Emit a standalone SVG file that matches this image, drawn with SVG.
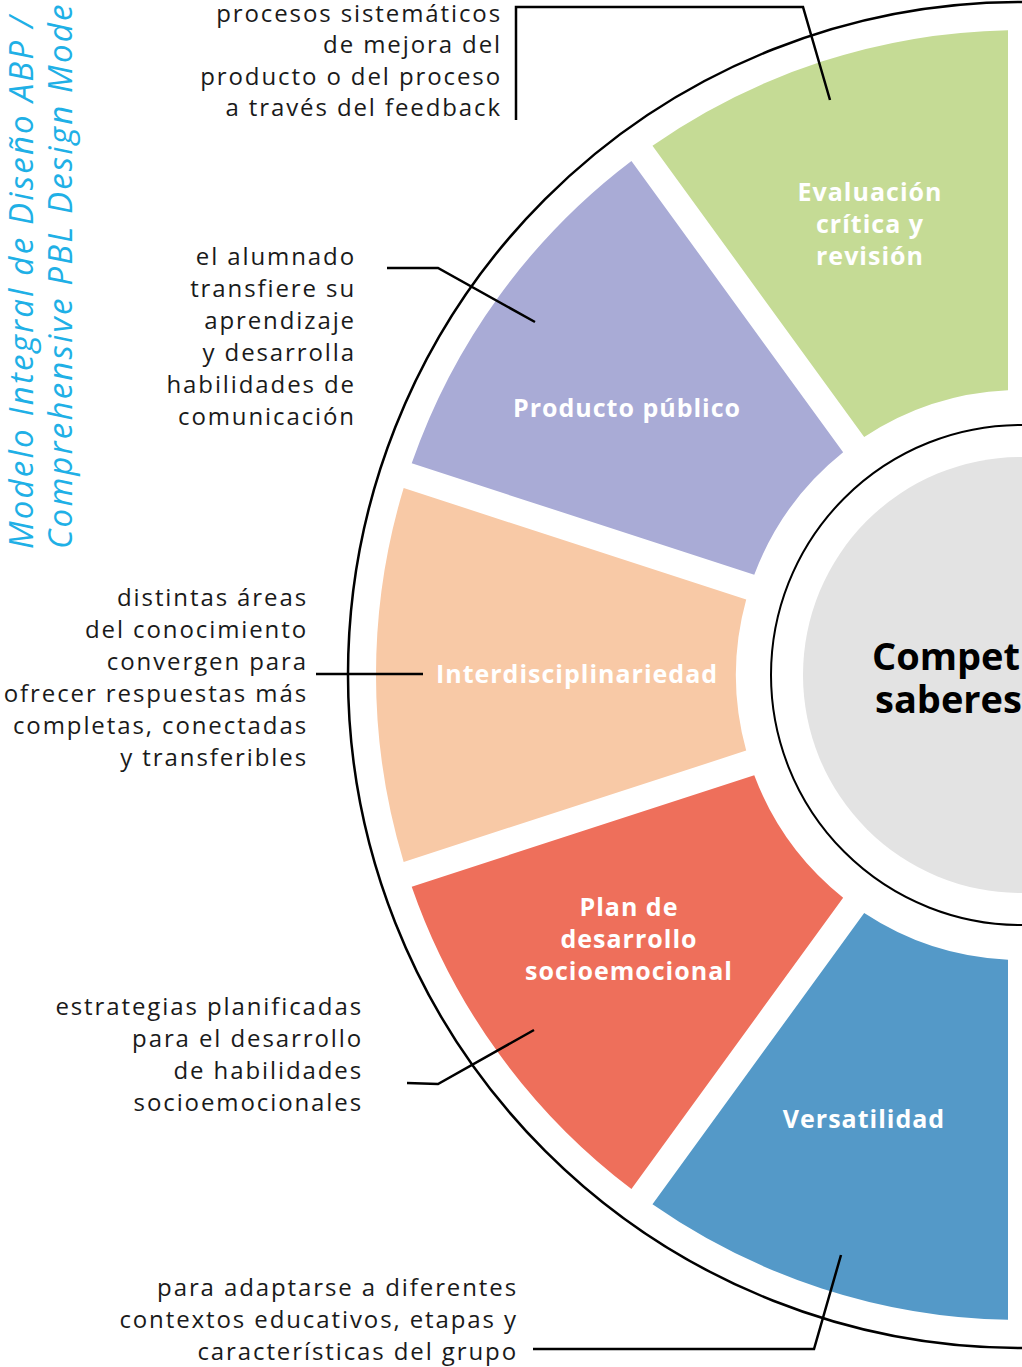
<svg xmlns="http://www.w3.org/2000/svg" width="1022" height="1367" viewBox="0 0 1022 1367">
<style>
.lbl{font-family:"Open Sans","Liberation Sans",sans-serif;font-size:24px;fill:#1a1a1a;text-anchor:end;letter-spacing:1.9px}
.seg{font-family:"Open Sans","Liberation Sans",sans-serif;font-size:25px;font-weight:bold;fill:#ffffff;text-anchor:middle;letter-spacing:1px}
.ctr{font-family:"Open Sans","Liberation Sans",sans-serif;font-size:38px;font-weight:bold;fill:#000}
.ttl{font-family:"Open Sans","Liberation Sans",sans-serif;font-size:33px;font-style:italic;fill:#1fb0e6;letter-spacing:2.2px}
.con{fill:none;stroke:#000;stroke-width:2.5;stroke-linejoin:miter}
</style>
<rect width="1022" height="1367" fill="#ffffff"/>
<g id="title">
<text class="ttl" transform="translate(33,549) rotate(-90)">Modelo Integral de Diseño ABP /</text>
<text class="ttl" transform="translate(72,549) rotate(-90)">Comprehensive PBL Design Mode</text>
</g>
<g id="rings">
<circle cx="1021" cy="675" r="673" fill="none" stroke="#000" stroke-width="2.5"/>
<circle cx="1021" cy="675" r="250" fill="none" stroke="#000" stroke-width="2"/>
</g>
<g id="center">
<circle cx="1021" cy="675" r="218" fill="#e3e3e3"/>
<text class="ctr" x="872" y="670">Compet</text>
<text class="ctr" x="875" y="713">saberes</text>
</g>
<g id="evaluacion">
<path d="M1008,30.13 A645,645 0 0 0 652.48,145.65 L864.18,437.03 A285,285 0 0 1 1008,390.3 Z" fill="#c5db95"/>
<text class="seg" x="870" y="201">Evaluación</text>
<text class="seg" x="870" y="233">crítica y</text>
<text class="seg" x="870" y="265">revisión</text>
</g>
<g id="producto">
<path d="M631.44,160.93 A645,645 0 0 0 411.71,463.36 L754.25,574.66 A285,285 0 0 1 843.14,452.31 Z" fill="#a9abd6"/>
<text class="seg" x="627" y="417">Producto público</text>
</g>
<g id="interdisciplinariedad">
<path d="M403.67,488.08 A645,645 0 0 0 403.67,861.92 L746.21,750.62 A285,285 0 0 1 746.21,599.38 Z" fill="#f8c9a6"/>
<text class="seg" x="577" y="683">Interdisciplinariedad</text>
</g>
<g id="plan">
<path d="M411.71,886.64 A645,645 0 0 0 631.44,1189.07 L843.14,897.69 A285,285 0 0 1 754.25,775.34 Z" fill="#ee6f5b"/>
<text class="seg" x="629" y="916">Plan de</text>
<text class="seg" x="629" y="948">desarrollo</text>
<text class="seg" x="629" y="980">socioemocional</text>
</g>
<g id="versatilidad">
<path d="M652.48,1204.35 A645,645 0 0 0 1008,1319.87 L1008,959.7 A285,285 0 0 1 864.18,912.97 Z" fill="#5499c8"/>
<text class="seg" x="864" y="1128">Versatilidad</text>
</g>
<g id="connectors">
<polyline class="con" points="830,100 803,7 516,7 516,120"/>
<polyline class="con" points="387,268 438,268 535,322"/>
<polyline class="con" points="316,674 423,674"/>
<polyline class="con" points="407,1083 438,1084 534,1030"/>
<polyline class="con" points="533,1349 814,1349 841,1255"/>
</g>
<g id="label-evaluacion">
<text class="lbl" x="502" y="22">procesos sistemáticos</text>
<text class="lbl" x="502" y="53">de mejora del</text>
<text class="lbl" x="502" y="85">producto o del proceso</text>
<text class="lbl" x="502" y="116">a través del feedback</text>
</g>
<g id="label-producto">
<text class="lbl" x="356" y="265">el alumnado</text>
<text class="lbl" x="356" y="297">transfiere su</text>
<text class="lbl" x="356" y="329">aprendizaje</text>
<text class="lbl" x="356" y="361">y desarrolla</text>
<text class="lbl" x="356" y="393">habilidades de</text>
<text class="lbl" x="356" y="425">comunicación</text>
</g>
<g id="label-interdisciplinariedad">
<text class="lbl" x="308" y="606">distintas áreas</text>
<text class="lbl" x="308" y="638">del conocimiento</text>
<text class="lbl" x="308" y="670">convergen para</text>
<text class="lbl" x="308" y="702">ofrecer respuestas más</text>
<text class="lbl" x="308" y="734">completas, conectadas</text>
<text class="lbl" x="308" y="766">y transferibles</text>
</g>
<g id="label-plan">
<text class="lbl" x="363" y="1015">estrategias planificadas</text>
<text class="lbl" x="363" y="1047">para el desarrollo</text>
<text class="lbl" x="363" y="1079">de habilidades</text>
<text class="lbl" x="363" y="1111">socioemocionales</text>
</g>
<g id="label-versatilidad">
<text class="lbl" x="518" y="1296">para adaptarse a diferentes</text>
<text class="lbl" x="518" y="1328">contextos educativos, etapas y</text>
<text class="lbl" x="518" y="1360">características del grupo</text>
</g>
</svg>
